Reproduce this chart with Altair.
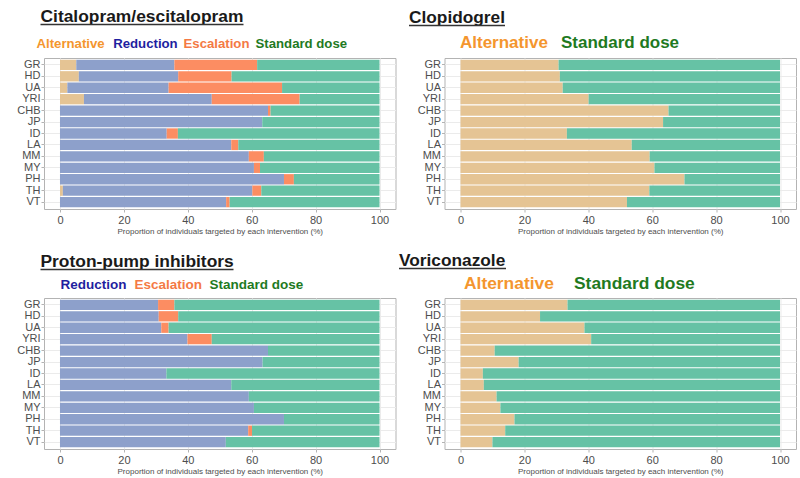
import altair as alt
import pandas as pd

cats = ["GR", "HD", "UA", "YRI", "CHB", "JP", "ID", "LA", "MM", "MY", "PH", "TH", "VT"]
types = ["Alternative", "Reduction", "Escalation", "Standard dose"]
bar_colors = ["#E5C494", "#8DA0CB", "#FC8D62", "#66C2A5"]
text_colors = {"Alternative": "#F4962E", "Reduction": "#1F1FA0",
               "Escalation": "#F47A45", "Standard dose": "#1F7A1F"}

# Citalopram/escitalopram
cit_alt = [5.1, 5.9, 2.3, 7.5, 0, 0, 0, 0, 0, 0, 0, 0.9, 0]
cit_red = [30.7, 31.1, 31.7, 40.0, 65.1, 63.3, 33.4, 53.6, 59.1, 60.7, 70.1, 59.3, 52.0]
cit_esc = [25.9, 16.7, 35.5, 27.5, 0.8, 0, 3.5, 2.2, 4.7, 1.9, 3.1, 2.8, 1.1]
# Clopidogrel
clo_alt = [30.7, 31.1, 32.0, 40.1, 65.1, 63.4, 33.3, 53.6, 59.2, 60.7, 70.1, 59.1, 52.1]
# Proton-pump inhibitors
ppi_red = [30.7, 30.9, 31.7, 39.9, 65.1, 63.4, 33.3, 53.6, 59.1, 60.7, 70.1, 58.9, 51.9]
ppi_esc = [5.1, 6.1, 2.3, 7.6, 0, 0, 0, 0, 0, 0, 0, 1.2, 0]
# Voriconazole
vor_alt = [33.5, 24.9, 38.8, 40.9, 10.7, 18.2, 7.0, 7.3, 11.3, 12.5, 16.9, 14.0, 10.0]

FONT = "Liberation Sans"
W, H = 351.5, 151


def make_df(series):
    rows = []
    for i, c in enumerate(cats):
        used = 0.0
        for t, vals in series.items():
            v = vals[i]
            used += v
            rows.append({"pop": c, "type": t, "value": v, "ord": types.index(t)})
        rows.append({"pop": c, "type": "Standard dose", "value": round(100 - used, 2), "ord": 3})
    return pd.DataFrame(rows)


def panel(df, title, tx, tbase, tend, tsize, words, wsize, wy, anchor=False):
    one = pd.DataFrame({"a": [0]})
    bars = alt.Chart(df).mark_bar().encode(
        y=alt.Y("pop:N", sort=cats, title=None,
                scale=alt.Scale(paddingInner=0.1, paddingOuter=0.15),
                axis=alt.Axis(labelFontSize=11, labelColor="#4D4D4D", tickColor="#B3B3B3",
                              tickSize=3, labelPadding=1, domain=False, grid=True,
                              gridColor="#EBEBEB", bandPosition=0.5)),
        x=alt.X("value:Q", stack="zero",
                scale=alt.Scale(domain=[-5, 105], nice=False, zero=False),
                axis=alt.Axis(values=[0, 20, 40, 60, 80, 100], labelFontSize=11,
                              labelColor="#4D4D4D", tickColor="#B3B3B3", tickSize=3,
                              labelPadding=2, domain=False, grid=True, gridColor="#EBEBEB",
                              title="Proportion of individuals targeted by each intervention (%)",
                              titleFontSize=8, titleColor="#4D4D4D", titleFontWeight="normal",
                              titlePadding=2)),
        color=alt.Color("type:N", scale=alt.Scale(domain=types, range=bar_colors), legend=None),
        order=alt.Order("ord:Q"),
    )
    layers = [bars]
    layers.append(alt.Chart(one).mark_text(align="left", baseline="alphabetic", fontSize=tsize,
                                           fontWeight="bold", color="#1A1A1A", font=FONT).encode(
        x=alt.value(tx), y=alt.value(tbase), text=alt.value(title)))
    layers.append(alt.Chart(one).mark_rule(color="#333333", strokeWidth=1.3).encode(
        x=alt.value(tx), x2=alt.value(tend), y=alt.value(tbase + 2.5)))
    for word, wx in words:
        layers.append(alt.Chart(one).mark_text(align="left", baseline="middle", fontSize=wsize,
                                               fontWeight="bold", color=text_colors[word],
                                               font=FONT).encode(
            x=alt.value(wx), y=alt.value(wy), text=alt.value(word)))
    if anchor:
        layers.append(alt.Chart(one).mark_rule(color="white", strokeWidth=1).encode(
            x=alt.value(-43), x2=alt.value(-42), y=alt.value(-56.5)))
    return alt.layer(*layers).properties(width=W, height=H)


p1 = panel(make_df({"Alternative": cit_alt, "Reduction": cit_red, "Escalation": cit_esc}),
           "Citalopram/escitalopram", -3.5, -36, 199.5, 17.4,
           [("Alternative", -7.5), ("Reduction", 69.2), ("Escalation", 139.5), ("Standard dose", 211.5)],
           13.2, -14, anchor=True)
p2 = panel(make_df({"Alternative": clo_alt}),
           "Clopidogrel", -35.5, -35, 60.5, 17.3,
           [("Alternative", 15.5), ("Standard dose", 116.5)], 17, -15)
p3 = panel(make_df({"Reduction": ppi_red, "Escalation": ppi_esc}),
           "Proton-pump inhibitors", -3.5, -31, 189.5, 17.4,
           [("Reduction", 16.5), ("Escalation", 90.5), ("Standard dose", 165.5)], 13.5, -13)
p4 = panel(make_df({"Alternative": vor_alt}),
           "Voriconazole", -45.5, -32, 61.5, 17.3,
           [("Alternative", 19.5), ("Standard dose", 129.5)], 17.4, -14)

chart = alt.concat(p1, p2, p3, p4, columns=2, spacing={"row": 89, "column": 48.5},
                   bounds="flush").properties(padding=0).configure(
    font=FONT).configure_view(stroke="#B3B3B3", strokeWidth=1)

chart.save("out.html", embed_options={"renderer": "svg", "actions": False})
